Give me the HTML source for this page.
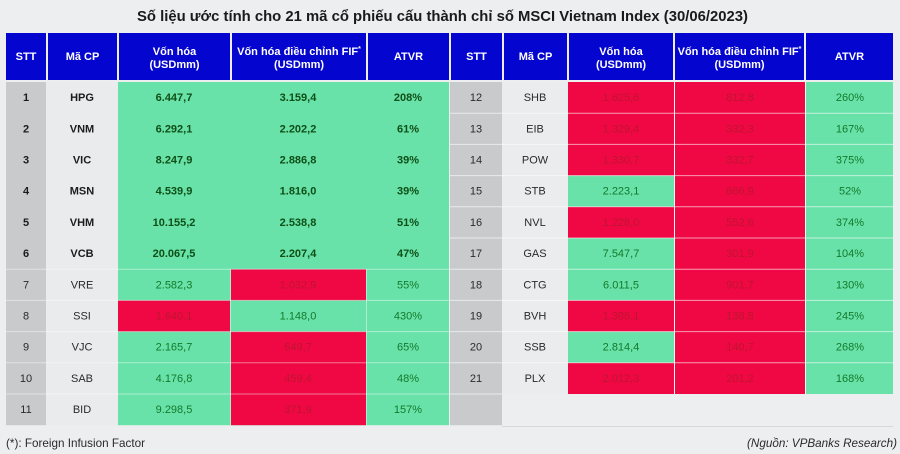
<!DOCTYPE html>
<html><head><meta charset="utf-8"><style>
html,body{margin:0;padding:0;background:#eceeef;}
svg{display:block;font-family:"Liberation Sans","Noto Sans CJK SC",sans-serif;}
</style></head><body>
<svg width="900" height="454" viewBox="0 0 900 454" xmlns="http://www.w3.org/2000/svg">
<rect x="0" y="0" width="900" height="454" fill="#eceeef"/>
<text x="442.5" y="21" text-anchor="middle" font-size="15" font-weight="bold" fill="#1a1a1a" textLength="611" lengthAdjust="spacingAndGlyphs">Số liệu ước tính cho 21 mã cổ phiếu cấu thành chỉ số MSCI Vietnam Index (30/06/2023)</text>

<!-- headers -->
<g fill="#0505d0">
<rect x="6" y="33" width="40" height="47"/>
<rect x="48" y="33" width="69" height="47"/>
<rect x="119" y="33" width="111" height="47"/>
<rect x="232" y="33" width="134" height="47"/>
<rect x="368" y="33" width="81" height="47"/>
<rect x="451" y="33" width="51" height="47"/>
<rect x="504" y="33" width="63" height="47"/>
<rect x="569" y="33" width="104" height="47"/>
<rect x="675" y="33" width="129" height="47"/>
<rect x="806" y="33" width="87" height="47"/>
</g>
<g fill="#ffffff" font-size="11" font-weight="bold" text-anchor="middle">
<text x="26" y="60">STT</text>
<text x="82.5" y="60">Mã CP</text>
<text x="174.5" y="55">Vốn hóa</text>
<text x="174.5" y="68">(USDmm)</text>
<text x="299" y="55">Vốn hóa điều chỉnh FIF<tspan font-size="7" dy="-4">*</tspan></text>
<text x="299" y="68">(USDmm)</text>
<text x="408.5" y="60">ATVR</text>
<text x="476.5" y="60">STT</text>
<text x="535.5" y="60">Mã CP</text>
<text x="621" y="55">Vốn hóa</text>
<text x="621" y="68">(USDmm)</text>
<text x="739.5" y="55">Vốn hóa điều chỉnh FIF<tspan font-size="7" dy="-4">*</tspan></text>
<text x="739.5" y="68">(USDmm)</text>
<text x="849.5" y="60">ATVR</text>
</g>

<!-- left body -->
<rect x="6" y="82" width="40" height="343.2" fill="#c9cacc"/>
<rect x="46" y="82" width="72" height="343.2" fill="#e9ebec"/>
<rect x="118" y="82" width="331" height="343.2" fill="#68e2a9"/>
<g fill="#ef0844">
<rect x="118" y="300.4" width="112" height="31.2"/>
<rect x="231" y="269.2" width="135" height="31.2"/>
<rect x="231" y="331.6" width="135" height="93.6"/>
</g>
<g stroke="#ffffff" stroke-opacity="0.45" stroke-width="1">
<line x1="6" y1="269.2" x2="449" y2="269.2"/>
<line x1="6" y1="300.4" x2="449" y2="300.4"/>
<line x1="6" y1="331.6" x2="449" y2="331.6"/>
<line x1="6" y1="362.8" x2="449" y2="362.8"/>
<line x1="6" y1="394" x2="449" y2="394"/>
<line x1="230.5" y1="269.2" x2="230.5" y2="425.2"/>
<line x1="366.5" y1="269.2" x2="366.5" y2="425.2"/>
</g>

<!-- right body -->
<rect x="450" y="82" width="52" height="343.2" fill="#c9cacc"/>
<rect x="502" y="82" width="66" height="312" fill="#eaeced"/>
<rect x="568" y="82" width="106" height="312" fill="#ef0844"/>
<rect x="675" y="82" width="130" height="312" fill="#ef0844"/>
<rect x="806" y="82" width="87" height="312" fill="#68e2a9"/>
<g fill="#68e2a9">
<rect x="568" y="175.6" width="106" height="31.2"/>
<rect x="568" y="238" width="106" height="62.4"/>
<rect x="568" y="331.6" width="106" height="31.2"/>
</g>
<g stroke="#ffffff" stroke-opacity="0.6" stroke-width="1">
<line x1="450" y1="113.2" x2="893" y2="113.2"/>
<line x1="450" y1="144.4" x2="893" y2="144.4"/>
<line x1="450" y1="175.6" x2="893" y2="175.6"/>
<line x1="450" y1="206.8" x2="893" y2="206.8"/>
<line x1="450" y1="238" x2="893" y2="238"/>
<line x1="450" y1="269.2" x2="893" y2="269.2"/>
<line x1="450" y1="300.4" x2="893" y2="300.4"/>
<line x1="450" y1="331.6" x2="893" y2="331.6"/>
<line x1="450" y1="362.8" x2="893" y2="362.8"/>
<line x1="450" y1="394" x2="502" y2="394"/>
<line x1="674.5" y1="82" x2="674.5" y2="394"/>
<line x1="805.5" y1="82" x2="805.5" y2="394"/>
</g>
<line x1="502" y1="426.5" x2="893" y2="426.5" stroke="#d6d8d9" stroke-width="1"/>

<!-- left text -->
<g font-size="11" text-anchor="middle" dominant-baseline="central">
<g font-weight="bold" fill="#1c1c1c">
<text x="26" y="98">1</text><text x="82" y="98">HPG</text>
<text x="26" y="129.3">2</text><text x="82" y="129.3">VNM</text>
<text x="26" y="160.5">3</text><text x="82" y="160.5">VIC</text>
<text x="26" y="191.7">4</text><text x="82" y="191.7">MSN</text>
<text x="26" y="222.9">5</text><text x="82" y="222.9">VHM</text>
<text x="26" y="254.1">6</text><text x="82" y="254.1">VCB</text>
</g>
<g fill="#2a2a2a">
<text x="26" y="285.3">7</text><text x="82" y="285.3">VRE</text>
<text x="26" y="316.5">8</text><text x="82" y="316.5">SSI</text>
<text x="26" y="347.7">9</text><text x="82" y="347.7">VJC</text>
<text x="26" y="378.9">10</text><text x="82" y="378.9">SAB</text>
<text x="26" y="410.1">11</text><text x="82" y="410.1">BID</text>
</g>
<g font-weight="bold" fill="#0e4f16">
<text x="174" y="98">6.447,7</text><text x="298" y="98">3.159,4</text><text x="408" y="98">208%</text>
<text x="174" y="129.3">6.292,1</text><text x="298" y="129.3">2.202,2</text><text x="408" y="129.3">61%</text>
<text x="174" y="160.5">8.247,9</text><text x="298" y="160.5">2.886,8</text><text x="408" y="160.5">39%</text>
<text x="174" y="191.7">4.539,9</text><text x="298" y="191.7">1.816,0</text><text x="408" y="191.7">39%</text>
<text x="174" y="222.9">10.155,2</text><text x="298" y="222.9">2.538,8</text><text x="408" y="222.9">51%</text>
<text x="174" y="254.1">20.067,5</text><text x="298" y="254.1">2.207,4</text><text x="408" y="254.1">47%</text>
</g>
<g fill="#137a2b">
<text x="174" y="285.3">2.582,3</text><text x="408" y="285.3">55%</text>
<text x="298" y="316.5">1.148,0</text><text x="408" y="316.5">430%</text>
<text x="174" y="347.7">2.165,7</text><text x="408" y="347.7">65%</text>
<text x="174" y="378.9">4.176,8</text><text x="408" y="378.9">48%</text>
<text x="174" y="410.1">9.298,5</text><text x="408" y="410.1">157%</text>
</g>
<g fill="#c0142f">
<text x="298" y="285.3">1.032,9</text>
<text x="174" y="316.5">1.640,1</text>
<text x="298" y="347.7">649,7</text>
<text x="298" y="378.9">459,4</text>
<text x="298" y="410.1">371,9</text>
</g>
</g>

<!-- right text -->
<g font-size="11" text-anchor="middle" dominant-baseline="central">
<g fill="#2a2a2a">
<text x="476" y="98">12</text><text x="535" y="98">SHB</text>
<text x="476" y="129.3">13</text><text x="535" y="129.3">EIB</text>
<text x="476" y="160.5">14</text><text x="535" y="160.5">POW</text>
<text x="476" y="191.7">15</text><text x="535" y="191.7">STB</text>
<text x="476" y="222.9">16</text><text x="535" y="222.9">NVL</text>
<text x="476" y="254.1">17</text><text x="535" y="254.1">GAS</text>
<text x="476" y="285.3">18</text><text x="535" y="285.3">CTG</text>
<text x="476" y="316.5">19</text><text x="535" y="316.5">BVH</text>
<text x="476" y="347.7">20</text><text x="535" y="347.7">SSB</text>
<text x="476" y="378.9">21</text><text x="535" y="378.9">PLX</text>
</g>
<g fill="#c0142f">
<text x="621" y="98">1.625,6</text><text x="740" y="98">812,8</text>
<text x="621" y="129.3">1.329,4</text><text x="740" y="129.3">332,3</text>
<text x="621" y="160.5">1.330,7</text><text x="740" y="160.5">332,7</text>
<text x="740" y="191.7">666,9</text>
<text x="621" y="222.9">1.228,0</text><text x="740" y="222.9">552,6</text>
<text x="740" y="254.1">301,9</text>
<text x="740" y="285.3">901,7</text>
<text x="621" y="316.5">1.388,1</text><text x="740" y="316.5">138,8</text>
<text x="740" y="347.7">140,7</text>
<text x="621" y="378.9">2.012,3</text><text x="740" y="378.9">201,2</text>
</g>
<g fill="#137a2b">
<text x="850" y="98">260%</text>
<text x="850" y="129.3">167%</text>
<text x="850" y="160.5">375%</text>
<text x="621" y="191.7">2.223,1</text><text x="850" y="191.7">52%</text>
<text x="850" y="222.9">374%</text>
<text x="621" y="254.1">7.547,7</text><text x="850" y="254.1">104%</text>
<text x="621" y="285.3">6.011,5</text><text x="850" y="285.3">130%</text>
<text x="850" y="316.5">245%</text>
<text x="621" y="347.7">2.814,4</text><text x="850" y="347.7">268%</text>
<text x="850" y="378.9">168%</text>
</g>
</g>

<!-- footer -->
<text x="6" y="447" font-size="12" fill="#2a2a2a" textLength="139" lengthAdjust="spacingAndGlyphs">(*): Foreign Infusion Factor</text>
<text x="897" y="447" font-size="12" font-style="italic" fill="#2a2a2a" text-anchor="end" textLength="150" lengthAdjust="spacingAndGlyphs">(Nguồn: VPBanks Research)</text>
</svg>
</body></html>
